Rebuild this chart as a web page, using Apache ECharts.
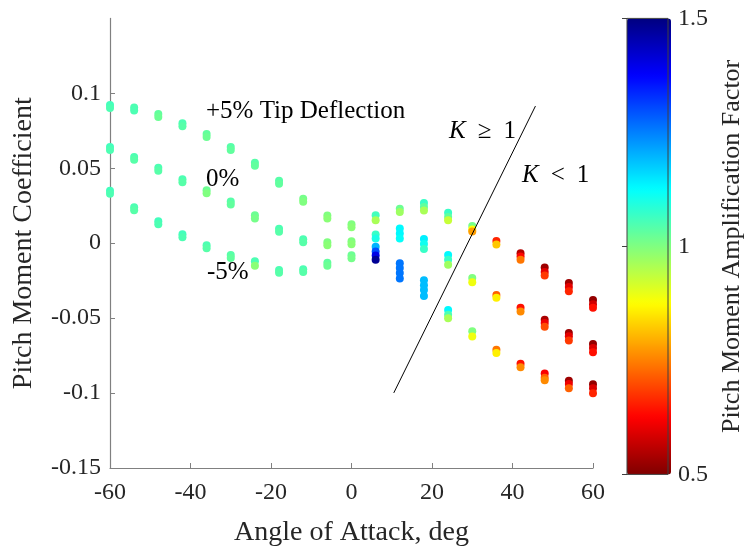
<!DOCTYPE html>
<html>
<head>
<meta charset="utf-8">
<script src="https://cdn.jsdelivr.net/npm/echarts@6/dist/echarts.min.js"></script>
<style>
  html, body { margin: 0; padding: 0; background: #fff; }
  #chart { width: 746px; height: 552px; }
</style>
</head>
<body>
<div id="chart"></div>
<script>
// Samples are [angle of attack (deg), pitch moment coefficient, amplification factor K]
const tipPlus5 = [
  [-60, 0.0922, 1.06], [-60, 0.0902, 1.05],
  [-54, 0.0906, 1.05], [-54, 0.0886, 1.05],
  [-48, 0.0862, 1.03], [-48, 0.0842, 1.02],
  [-42, 0.0800, 1.05], [-42, 0.0780, 1.04],
  [-36, 0.0728, 1.03], [-36, 0.0708, 1.02],
  [-30, 0.0642, 1.04], [-30, 0.0622, 1.03],
  [-24, 0.0536, 1.04], [-24, 0.0516, 1.03],
  [-18, 0.0416, 1.04], [-18, 0.0396, 1.03],
  [-12, 0.0297, 1.01], [-12, 0.0277, 1.00],
  [-6, 0.0185, 1.00], [-6, 0.0165, 0.99],
  [0, 0.0127, 1.00], [0, 0.0107, 0.99],
  [6, 0.0186, 1.06], [6, 0.0153, 0.96],
  [12, 0.0230, 1.02], [12, 0.0208, 0.97],
  [18, 0.0269, 1.07], [18, 0.0241, 1.03], [18, 0.0219, 0.96],
  [24, 0.0203, 1.07], [24, 0.0175, 1.03], [24, 0.0153, 0.93],
  [30, 0.0115, 1.01], [30, 0.0092, 0.88], [30, 0.0078, 0.78],
  [36, 0.0015, 0.66], [36, -0.0008, 0.82],
  [42, -0.0067, 0.55], [42, -0.0089, 0.63], [42, -0.0111, 0.74],
  [48, -0.0162, 0.53], [48, -0.0193, 0.60], [48, -0.0216, 0.68],
  [54, -0.0265, 0.53], [54, -0.0292, 0.60], [54, -0.0320, 0.66],
  [60, -0.0379, 0.52], [60, -0.0408, 0.58], [60, -0.0430, 0.64]
];

const tipZero = [
  [-60, 0.0642, 1.06], [-60, 0.0622, 1.05],
  [-54, 0.0576, 1.05], [-54, 0.0556, 1.04],
  [-48, 0.0503, 1.05], [-48, 0.0483, 1.04],
  [-42, 0.0427, 1.05], [-42, 0.0407, 1.04],
  [-36, 0.0354, 1.02], [-36, 0.0334, 1.00],
  [-30, 0.0279, 1.04], [-30, 0.0259, 1.03],
  [-24, 0.0186, 1.02], [-24, 0.0164, 1.01],
  [-18, 0.0097, 1.05], [-18, 0.0077, 1.04],
  [-12, 0.0026, 1.05], [-12, 0.0006, 1.04],
  [-6, 0.0007, 1.00], [-6, -0.0013, 0.99],
  [0, 0.0013, 1.00], [0, -0.0007, 0.99],
  [6, 0.0058, 1.07], [6, 0.0032, 1.10],
  [12, 0.0098, 1.13], [12, 0.0065, 1.13], [12, 0.0032, 1.12],
  [18, 0.0028, 1.14], [18, -0.0005, 1.11], [18, -0.0038, 1.07],
  [24, -0.0078, 1.13], [24, -0.0111, 1.07], [24, -0.0144, 0.97],
  [30, -0.0232, 1.00], [30, -0.0261, 0.89],
  [36, -0.0346, 0.72], [36, -0.0364, 0.86],
  [42, -0.0430, 0.64], [42, -0.0456, 0.76],
  [48, -0.0511, 0.54], [48, -0.0533, 0.61], [48, -0.0557, 0.70],
  [54, -0.0599, 0.53], [54, -0.0621, 0.60], [54, -0.0650, 0.68],
  [60, -0.0672, 0.52], [60, -0.0700, 0.59], [60, -0.0727, 0.64]
];

const tipMinus5 = [
  [-60, 0.0350, 1.06], [-60, 0.0330, 1.05],
  [-54, 0.0240, 1.05], [-54, 0.0220, 1.04],
  [-48, 0.0147, 1.06], [-48, 0.0127, 1.05],
  [-42, 0.0060, 1.06], [-42, 0.0040, 1.05],
  [-36, -0.0013, 1.05], [-36, -0.0033, 1.04],
  [-30, -0.0079, 1.04], [-30, -0.0099, 1.03],
  [-24, -0.0120, 1.05], [-24, -0.0150, 0.99],
  [-18, -0.0178, 1.05], [-18, -0.0198, 1.04],
  [-12, -0.0173, 1.05], [-12, -0.0193, 1.04],
  [-6, -0.0130, 1.03], [-6, -0.0150, 1.02],
  [0, -0.0081, 1.02], [0, -0.0101, 1.01],
  [6, -0.0023, 1.20], [6, -0.0056, 1.30], [6, -0.0082, 1.40], [6, -0.0111, 1.48],
  [12, -0.0133, 1.26], [12, -0.0166, 1.26], [12, -0.0199, 1.26], [12, -0.0236, 1.26],
  [18, -0.0247, 1.19], [18, -0.0280, 1.19], [18, -0.0313, 1.19], [18, -0.0353, 1.19],
  [24, -0.0445, 1.13], [24, -0.0478, 1.05], [24, -0.0500, 0.96],
  [30, -0.0588, 1.00], [30, -0.0623, 0.89],
  [36, -0.0711, 0.74], [36, -0.0733, 0.86],
  [42, -0.0804, 0.64], [42, -0.0828, 0.76],
  [48, -0.0870, 0.62], [48, -0.0898, 0.72], [48, -0.0914, 0.76],
  [54, -0.0918, 0.53], [54, -0.0940, 0.61], [54, -0.0968, 0.72],
  [60, -0.0942, 0.52], [60, -0.0968, 0.59], [60, -0.1001, 0.66]
];

// K = 1 boundary drawn across the plot
const boundaryLine = [[10.5, -0.0999], [45.7, 0.0915]];

const xTicks = [-60, -40, -20, 0, 20, 40, 60];
const yTicks = [-0.15, -0.1, -0.05, 0, 0.05, 0.1];
const kTicks = [0.5, 1, 1.5];

// jet colormap, low K (dark red) to high K (dark blue)
const jet = ['#800000', '#ff0000', '#ff8000', '#ffff00', '#80ff80',
             '#00ffff', '#0080ff', '#0000ff', '#000080'];

const FONT = '"Liberation Serif", "Times New Roman", serif';
const INK = '#262626';
const AXIS = '#808080';

const chart = echarts.init(document.getElementById('chart'), null, { renderer: 'canvas' });

function scatterSeries(name, data) {
  return {
    name: name,
    type: 'scatter',
    xAxisIndex: 0,
    yAxisIndex: 0,
    data: data,
    symbol: 'circle',
    symbolSize: 8,
    itemStyle: { opacity: 1 },
    emphasis: { disabled: true },
    z: 2
  };
}

const mathRich = {
  k: { fontStyle: 'italic', fontSize: 25, fontFamily: FONT, fill: '#000' },
  r: { fontSize: 25, fontFamily: FONT, fill: '#000', padding: [0, 12, 0, 12] }
};

chart.setOption({
  animation: false,
  backgroundColor: '#ffffff',
  textStyle: { fontFamily: FONT },
  grid: [
    { left: 110, right: 153, top: 18.4, bottom: 77.6, containLabel: false },
    { left: 627, width: 44, top: 18.4, bottom: 77.6, show: true, z: 10,
      backgroundColor: 'transparent', borderColor: '#404040', borderWidth: 1 }
  ],
  xAxis: [
    {
      gridIndex: 0, type: 'value', min: -60, max: 60, interval: 20,
      axisLine: { show: true, onZero: false, lineStyle: { color: AXIS, width: 1.2 } },
      axisTick: { show: true, inside: true, length: 5, lineStyle: { color: AXIS } },
      axisLabel: { color: INK, fontSize: 24, fontFamily: FONT, margin: 13,
                   customValues: xTicks },
      splitLine: { show: false },
      name: 'Angle of Attack, deg', nameLocation: 'middle', nameGap: 51,
      nameTextStyle: { color: INK, fontSize: 28, fontFamily: FONT }
    },
    { gridIndex: 1, type: 'value', min: 0, max: 1, show: false }
  ],
  yAxis: [
    {
      gridIndex: 0, type: 'value', min: -0.15, max: 0.15, interval: 0.05,
      axisLine: { show: true, onZero: false, lineStyle: { color: AXIS, width: 1.2 } },
      axisTick: { show: true, inside: true, length: 5, lineStyle: { color: AXIS },
                  customValues: yTicks },
      axisLabel: { color: INK, fontSize: 24, fontFamily: FONT, margin: 9,
                   customValues: yTicks,
                   formatter: v => String(parseFloat(Number(v).toFixed(2))) },
      splitLine: { show: false },
      name: 'Pitch Moment Coefficient', nameLocation: 'middle', nameGap: 72,
      nameTextStyle: { color: INK, fontSize: 28, fontFamily: FONT }
    },
    {
      gridIndex: 1, type: 'value', min: 0.5, max: 1.5, interval: 0.5, position: 'right',
      axisLine: { show: false },
      axisTick: { show: true, inside: true, length: 5, lineStyle: { color: '#404040' },
                  customValues: kTicks },
      axisLabel: { color: INK, fontSize: 24, fontFamily: FONT, margin: 10,
                   customValues: kTicks, formatter: v => String(v) },
      splitLine: { show: false },
      name: 'Pitch Moment Amplification Factor', nameLocation: 'middle', nameGap: 51,
      nameRotate: 90,
      nameTextStyle: { color: INK, fontSize: 26, fontFamily: FONT }
    }
  ],
  visualMap: {
    type: 'continuous',
    min: 0.5, max: 1.5,
    dimension: 2,
    seriesIndex: [0, 1, 2],
    inRange: { color: jet },
    calculable: false,
    realtime: false,
    show: true,
    left: 627, top: 18.4,
    itemWidth: 44, itemHeight: 456,
    padding: 0,
    text: null,
    showLabel: false,
    z: 1
  },
  series: [
    scatterSeries('+5% Tip Deflection', tipPlus5),
    scatterSeries('0%', tipZero),
    scatterSeries('-5%', tipMinus5),
    {
      name: 'K = 1',
      type: 'line',
      xAxisIndex: 0, yAxisIndex: 0,
      data: boundaryLine,
      symbol: 'none',
      lineStyle: { color: '#000000', width: 1 },
      silent: true,
      z: 5
    }
  ],
  graphic: [
    { type: 'text', left: 206, top: 99,
      style: { text: '+5% Tip Deflection', font: '25px ' + FONT, fill: '#000' } },
    { type: 'text', left: 206, top: 167,
      style: { text: '0%', font: '25px ' + FONT, fill: '#000' } },
    { type: 'text', left: 207, top: 260,
      style: { text: '-5%', font: '25px ' + FONT, fill: '#000' } },
    { type: 'text', left: 449, top: 119,
      style: { text: '{k|K}{r|≥}1', font: '25px ' + FONT, fill: '#000', rich: mathRich } },
    { type: 'text', left: 522, top: 163,
      style: { text: '{k|K}{r|<}1', font: '25px ' + FONT, fill: '#000', rich: mathRich } }
  ]
});
</script>
</body>
</html>
